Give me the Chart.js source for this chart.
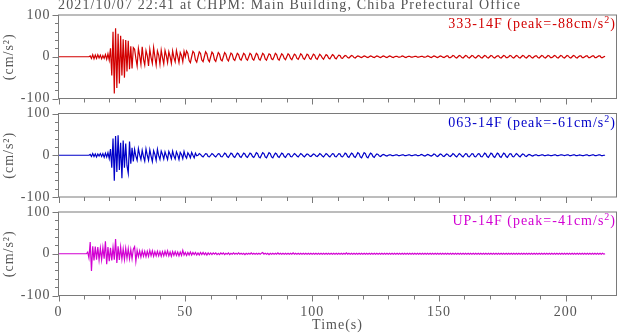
<!DOCTYPE html>
<html>
<head>
<meta charset="utf-8">
<script src="https://cdn.jsdelivr.net/npm/chart.js@4.4.1/dist/chart.umd.min.js"></script>
<style>
  body { margin: 0; background: #fff; }
  #wrap { position: relative; width: 621px; height: 334px; overflow: hidden; font-family: 'Liberation Serif', serif; }
  canvas { position: absolute; left: 0; top: 0; }
  .txt { position: absolute; font-size: 14px; line-height: 14px; letter-spacing: 1px; white-space: nowrap; }
  .sup { font-size: 10px; position: relative; top: -5px; }
</style>
</head>
<body>
<div id="wrap">
  <canvas id="c1" width="621" height="334"></canvas>
  <canvas id="c2" width="621" height="334"></canvas>
  <canvas id="c3" width="621" height="334"></canvas>
  <div class="txt" style="left:58px;top:-2px;color:#555;letter-spacing:1.13px">2021/10/07 22:41 at CHPM: Main Building, Chiba Prefectural Office</div>
  <div class="txt" style="right:5px;top:17px;color:#d20000">333-14F (peak=-88cm/s<span class="sup">2</span>)</div>
  <div class="txt" style="right:5px;top:115.5px;color:#0000c8">063-14F (peak=-61cm/s<span class="sup">2</span>)</div>
  <div class="txt" style="right:5px;top:214px;color:#d200d2">UP-14F (peak=-41cm/s<span class="sup">2</span>)</div>
</div>
<script>
// 샘플 간격 (초)
const sampleStep = 0.5;

// 333-14F 가속도 (cm/s2), 0.5초 간격
const red333 = [
  0,0,0,0,0,0,0,0,0,0,0,0,0,0,0,0,0,0,0,0,
  0,0,0,0,0,2,-4,5,-5,4,-4,5,-3,4,-5,3,-4,5,-6,7,
  -8,20,-45,60,-88,68,-75,55,-64,50,-45,42,-50,40,-35,38,-30,25,-28,22,
  18,-4,-22,20,2,-18,24,-6,-20,15,3,-22,18,-2,-16,22,0,-20,14,4,
  -18,16,-2,-17,15,3,-14,12,0,-16,14,-2,-12,15,1,-14,10,3,-12,13,
  0,14,8,-9,-14,0,13,9,-8,-13,0,12,8,-8,-12,0,12,7,-7,-12,
  0,11,7,-7,-11,0,10,6,-7,-10,0,10,6,-6,-10,0,9,6,-6,-9,
  0,8,5,-5,-8,0,8,5,-5,-8,0,8,5,-5,-8,0,8,5,-5,-8,
  0,8,5,-5,-8,0,7,5,-5,-7,0,8,5,-5,-8,0,7,4,-4,-7,
  0,7,4,-4,-7,0,6,4,-4,-6,0,7,4,-4,-6,0,6,4,-4,-6,
  0,6,4,-4,-6,0,6,3,-3,-6,0,5,3,-3,-5,0,5,3,-3,-5,
  0,4,3,-3,-4,0,3,2,-2,-3,0,3,2,-2,-3,0,2,1,-1,-2,
  0,2,1,-1,-2,0,2,1,-1,-2,0,2,1,-1,-2,0,2,1,-1,-2,
  0,2,1,-1,-2,0,1,1,-1,-1,0,2,1,-1,-2,0,1,1,-1,-1,
  0,1,1,-1,-1,0,1,1,-1,-1,0,2,1,-1,-2,0,2,1,-1,-2,
  0,2,1,-1,-2,0,2,2,-2,-2,0,3,2,-2,-3,0,3,2,-2,-3,
  0,3,2,-2,-3,0,3,2,-2,-3,0,3,2,-2,-3,0,3,2,-2,-3,
  0,3,2,-2,-3,0,2,2,-2,-3,0,3,2,-2,-2,0,3,2,-2,-3,
  0,3,2,-2,-3,0,3,2,-2,-3,0,3,2,-2,-3,0,2,2,-2,-3,
  0,3,2,-2,-3,0,3,2,-2,-2,0,3,2,-2,-3,0,3,2,-2,-3,
  0,3,2,-2,-3,0,3,2,-2,-3,0,2,2,-2,-2,0,2,2,-2,-2,
  0,2,2,-2,-2,0,2,2,-2,-2,0,1
];

// 063-14F
const blue063 = [
  0,0,0,0,0,0,0,0,0,0,0,0,0,0,0,0,0,0,0,0,
  0,0,0,0,0,2,-3,4,-3,3,-4,3,-2,4,-3,4,-5,5,-4,6,
  -8,15,-30,40,-61,46,-40,48,-35,30,-55,35,-30,28,-25,-43,33,-20,18,-15,
  14,-2,-12,16,1,-10,12,-3,-14,15,0,-12,13,-2,-15,11,2,-12,14,-1,
  -10,10,2,-9,8,-1,-10,9,2,-8,10,-2,-9,8,1,-10,7,2,-8,9,
  -2,-7,6,1,-6,7,0,-6,5,-1,0,4,2,-2,-4,0,4,3,-3,-4,
  0,4,2,-2,-4,0,4,3,-3,-4,0,5,3,-3,-5,0,5,3,-3,-5,
  0,5,3,-3,-5,0,5,3,-3,-5,0,5,3,-3,-5,0,6,4,-4,-6,
  0,6,4,-4,-6,0,6,4,-4,-6,0,5,3,-3,-5,0,5,3,-3,-5,
  0,4,3,-3,-4,0,4,2,-2,-4,0,4,2,-2,-4,0,3,2,-2,-3,
  0,3,2,-2,-3,0,4,2,-2,-4,0,4,2,-2,-4,0,4,3,-3,-4,
  0,4,3,-3,-4,0,5,3,-3,-5,0,5,3,-3,-5,0,6,4,-4,-6,
  0,6,4,-4,-6,0,5,3,-3,-5,0,3,2,-2,-3,0,2,1,-1,-2,
  0,1,1,-1,-1,0,1,1,-1,-1,0,1,1,-1,-1,0,1,1,-1,-1,
  0,1,1,-1,-1,0,2,1,-1,-2,0,2,1,-1,-2,0,3,2,-2,-3,
  0,3,2,-2,-3,0,3,2,-2,-3,0,4,2,-2,-4,0,4,2,-2,-4,
  0,4,3,-3,-4,0,4,3,-3,-4,0,4,3,-3,-4,0,5,3,-3,-5,
  0,5,3,-3,-5,0,5,3,-3,-5,0,5,3,-3,-5,0,4,3,-3,-4,
  0,4,2,-2,-4,0,3,2,-2,-3,0,2,1,-1,-2,0,1,1,-1,-1,
  0,1,1,-1,-1,0,1,0,-1,-1,0,1,1,-1,-1,0,1,1,0,-1,
  0,1,1,-1,-1,0,1,1,-1,-1,0,1,0,-1,-1,0,1,1,-1,-1,
  0,1,1,-1,-1,0,1,1,-1,-1,0,0
];

// UP-14F
const magentaUP = [
  0,0,0,0,0,0,0,0,0,0,0,0,0,0,0,0,0,0,0,0,
  0,0,0,4,-10,28,-41,18,-16,17,-14,16,-15,13,-14,15,-12,30,-25,16,
  -18,14,-16,15,-14,35,-22,18,-15,16,-13,12,-14,13,-11,12,-12,10,-12,11,
  17,-18,8,-7,7,-8,7,-6,6,-7,6,-6,8,-5,7,-6,5,-5,6,-5,
  5,-6,5,-5,6,-4,7,-5,4,-6,5,-4,5,-4,4,-5,4,-4,8,-3,
  3,-4,3,-3,4,-3,3,-2,3,-3,2,-3,3,-2,3,-2,2,-3,2,-2,
  2,-2,2,-1,2,-2,1,-2,2,-1,2,-2,1,-1,2,-2,1,-1,2,-1,
  1,-1,2,-1,1,-1,1,-2,1,-1,1,-1,2,-1,1,-1,1,-1,1,-1,
  1,3,-1,1,-1,1,-2,1,-1,1,-1,1,-1,2,-1,1,-1,1,-1,1,
  -1,1,-1,1,-1,2,-1,1,-1,1,-1,1,-1,1,-1,1,-1,1,-1,1,
  -1,1,-1,1,-1,1,-1,1,-1,1,-1,1,-1,1,-1,1,-1,1,-1,1,
  -1,1,-1,1,-1,1,-1,2,-1,1,-1,1,-1,1,-1,1,-1,1,-1,1,
  -1,1,-1,1,-1,1,-1,1,-1,1,-1,1,-1,1,-1,1,-1,1,-1,1,
  -1,1,-1,1,-1,1,-1,1,-1,1,-1,1,-1,1,-1,1,-1,1,-1,1,
  -1,1,-1,1,-1,1,-1,1,-1,1,-1,1,-1,1,-1,1,-1,1,-1,1,
  -1,1,-1,1,-1,1,-1,1,-1,1,-1,1,-1,1,-1,1,-1,1,-1,1,
  -1,1,-1,1,-1,1,-1,1,-1,1,-1,1,-1,1,-1,1,-1,1,-1,1,
  -1,1,-1,1,-1,1,-1,1,-1,1,-1,1,-1,1,-1,1,-1,1,-1,1,
  -1,1,-1,1,-1,1,-1,1,-1,1,-1,1,-1,1,-1,1,-1,1,-1,1,
  -1,1,-1,1,-1,1,-1,1,-1,1,-1,1,-1,1,-1,1,-1,1,-1,1,
  -1,1,-1,1,-1,1,-1,1,-1,1,-1,1,-1,1,-1,1,-1,1,-1,1,
  -1,1,-1,1,-1,1,-1,1,-1,1,-1,0
];

// 눈금
const xTicks = [0, 50, 100, 150, 200];
const xMinor = [0,10,20,30,40,50,60,70,80,90,100,110,120,130,140,150,160,170,180,190,200,210];
const yTicks = [-100, 0, 100];
const yMinor = [-100,-80,-60,-40,-20,0,20,40,60,80,100];

const gray = '#555';
const fontFamily = "'Liberation Serif', serif";

// 테두리와 눈금선 그리기
const frameTicks = {
  id: 'frameTicks',
  beforeDraw(chart) {
    chart.ctx.letterSpacing = '1px';
  },
  afterDraw(chart) {
    const ctx = chart.ctx;
    const a = chart.chartArea;
    const x = chart.scales.x;
    const y = chart.scales.y;
    ctx.save();
    ctx.strokeStyle = '#7a7a7a';
    ctx.lineWidth = 1;
    ctx.strokeRect(a.left, a.top, a.right - a.left, a.bottom - a.top);
    ctx.beginPath();
    xMinor.forEach(v => {
      const px = Math.round(x.getPixelForValue(v)) + 0.5;
      const len = xTicks.includes(v) ? 6 : 4;
      ctx.moveTo(px, a.bottom);
      ctx.lineTo(px, a.bottom + len);
    });
    yMinor.forEach(v => {
      const py = Math.round(y.getPixelForValue(v)) + 0.5;
      const len = yTicks.includes(v) ? 6 : 3.5;
      ctx.moveTo(a.left, py);
      ctx.lineTo(a.left - len, py);
    });
    ctx.stroke();
    ctx.restore();
  }
};

const panels = [
  { id: 'c1', values: red333, color: '#d20000', top: 15, bottom: 98.5, last: false },
  { id: 'c2', values: blue063, color: '#0000c8', top: 113.5, bottom: 197, last: false },
  { id: 'c3', values: magentaUP, color: '#d200d2', top: 212, bottom: 295.5, last: true }
];

function makeChart(p) {
  const times = p.values.map((v, i) => i * sampleStep);
  new Chart(document.getElementById(p.id), {
    type: 'line',
    data: {
      labels: times,
      datasets: [{
        data: p.values,
        borderColor: p.color,
        borderWidth: 1.2,
        pointRadius: 0,
        fill: false,
        tension: 0
      }]
    },
    options: {
      responsive: false,
      animation: false,
      devicePixelRatio: 1,
      events: [],
      layout: { padding: { left: 0, right: 4.5, top: p.top, bottom: p.last ? 0 : 334 - p.bottom } },
      plugins: { legend: { display: false }, tooltip: { enabled: false } },
      scales: {
        x: {
          type: 'linear', min: 0, max: 220,
          afterBuildTicks: s => { s.ticks = xTicks.map(v => ({ value: v })); },
          afterFit: s => { s.height = p.last ? 334 - p.bottom : 0; },
          grid: { display: false, drawTicks: true, tickLength: 5 },
          border: { display: false },
          ticks: { display: p.last, padding: 3, color: gray, maxRotation: 0, autoSkip: false, font: { family: fontFamily, size: 14 } },
          title: { display: p.last, text: 'Time(s)', color: gray, padding: { top: 0, bottom: 0 }, font: { family: fontFamily, size: 14 } }
        },
        y: {
          type: 'linear', min: -100, max: 100,
          afterBuildTicks: s => { s.ticks = yTicks.map(v => ({ value: v })); },
          afterFit: s => { s.width = 58.5; },
          grid: { display: false, drawTicks: true, tickLength: 5 },
          border: { display: false },
          ticks: { padding: 3, color: gray, font: { family: fontFamily, size: 14 } },
          title: { display: true, text: '(cm/s²)', color: gray, padding: { top: 1, bottom: 0 }, font: { family: fontFamily, size: 14 } }
        }
      }
    },
    plugins: [frameTicks]
  });
}

panels.forEach(makeChart);
</script>
</body>
</html>
